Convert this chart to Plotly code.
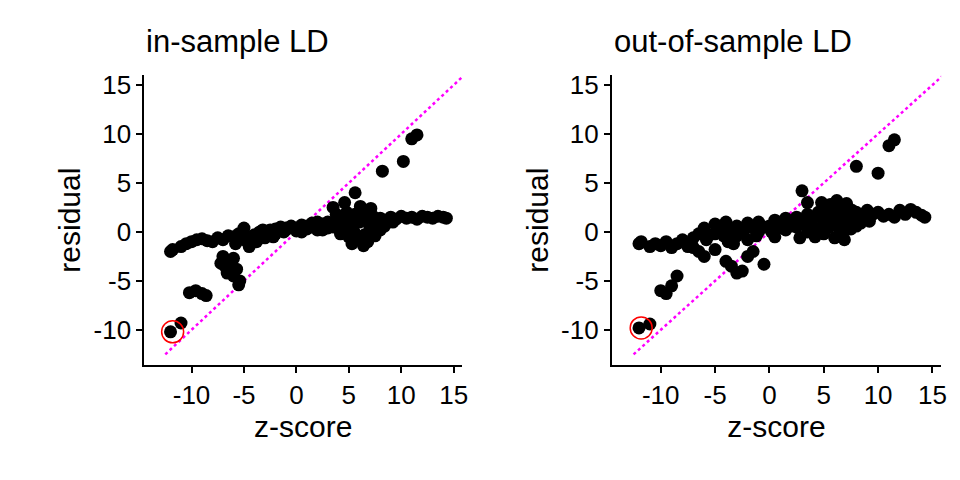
import plotly.graph_objects as go

# in-sample LD panel
in_x = [-12, -11.8, -11, -10.5, -10, -9.5, -9, -8.5, -8, -7.5, -7, -6.5, -6, -5.5, -5, -4.5, -4, -3.5, -3, -2.5,
        -2, -1.5, -1, -0.5, 0, 0.5, 1, 1.5, 2, 2.5, 3, 3.5, 4, 4.5, 5, 5.2, 5.5, 5.8, 6, 6.3, 6.6, 7, 7.3, 7.6,
        8, 8.5, 9, 9.5, 10, 10.5, 11, 11.5, 12, 12.5, 13, 13.5, 14, 14.3,
        -5.8, -5, -4.5, -3.8, -3, -2, -1, 0.5, 1.5, 2.5, 3.5, 4.5, 5, 5.5, 6, 6.5, 7, 7.5, 8, 4.8, 5.6, 6.2, 6.8,
        -7, -6.8, -6.5, -6.3, -6, -6, -5.7, -5.5, -7.2, -6.6, -5.4, -10.2, -9.6, -9, -8.6,
        -12, -11, 5.6, 8.2, 10.2, 11, 11.5, 3.5, 4.6,
        -4, -3.2, -2.2, -1.2, 0, 1, 2, 3, 4, 5.3, 6.1, 6.9, 7.7, 8.4, 9.2, 4.2, 5.9, 7.1, 3.8, 6.4]
in_y = [-2, -1.8, -1.5, -1.2, -1, -0.8, -0.7, -0.9, -1, -0.6, -0.8, -0.4, -0.5, -0.2, 0.4, -0.5, -0.3, 0, -0.2, 0.2,
        0.3, 0.5, 0.4, 0.6, 0.4, 0.7, 0.6, 0.9, 1, 0.8, 1, 0.9, 1.1, 1, 1.3, 0.9, 1.4, 1.2, 1, 1.3, 1.5, 1.2, 1.6, 1.1,
        1.4, 1.2, 1.5, 1.3, 1.6, 1.4, 1.5, 1.3, 1.6, 1.5, 1.4, 1.6, 1.5, 1.4,
        -1.2, -0.8, -1.5, -1, -0.6, -0.2, 0.2, 0, 0.5, 0.2, 0.5, 0.3, -0.5, 0, -0.8, -0.3, 0.5, -0.4, 0.2, 2, 1.8, 2.2, -1,
        -2.5, -3.5, -4, -3, -4.5, -2.7, -3.8, -5.4, -3.2, -4.2, -5, -6.2, -6, -6.3, -6.5,
        -10.2, -9.3, 4, 6.2, 7.2, 9.5, 9.9, 2.5, 3,
        -0.9, 0.2, -0.5, 0, 0.1, 0.3, 0.2, 0.4, 0.6, -1.2, 2.6, -0.6, 0.8, 0.6, 1, -0.2, 1.6, 2.4, 1.8, -1.4]

# out-of-sample LD panel
out_x = [-12, -11.8, -11, -10.5, -10, -9.5, -9, -8.5, -8, -7.5, -7, -6.5, -6, -5.5, -5, -4.5, -4, -3.5, -3, -2.5,
         -2, -1.5, -1, -0.5, 0, 0.5, 1, 1.5, 2, 2.5, 3, 3.5, 4, 4.5, 5, 5.2, 5.5, 5.8, 6, 6.3, 6.6, 7, 7.3, 7.6,
         8, 8.5, 9, 9.5, 10, 10.5, 11, 11.5, 12, 12.5, 13, 13.5, 14, 14.3,
         -5.8, -5, -4.5, -3.8, -3, -2, -1, 0.5, 1.5, 2.5, 3.5, 4.5, 5, 5.5, 6, 6.5, 7, 7.5, 8, 4.8, 5.6, 6.2, 6.8,
         -7, -6.5, -6, -5, -4, -3.5, -2.5, -2, -1.5, -3, -10, -9.5, -9, -8.5, -0.5, 3,
         -12, -11, 8, 10, 11, 11.5, 3.5,
         -4.2, -3.3, -2.3, -1.2, 0.2, 1.2, 2.2, 3.2, 4.2, 5.3, 6.1, 6.9, 7.7, 8.4, 9.2, 4, 5.9, 7.1, 2.8, 6.4]
out_y = [-1.2, -1, -1.5, -1.2, -1.4, -1, -1.6, -1.2, -0.8, -1.5, -0.6, -0.2, 0.4, -0.3, 0.8, 0.5, 1, 0.2, 0.6, 0.3,
         0.9, 0.4, 1, 0.5, 0.6, 1.2, 0.8, 1.4, 1, 1.5, 1.2, 1.8, 1.4, 2, 1.2, 2.4, 1.5, 2.2, 1.8, 2.4, 1.4, 2.6, 1.8, 2.2,
         2, 1.6, 2.2, 1.8, 2, 1.6, 1.8, 1.5, 2.2, 1.8, 2.3, 2, 1.7, 1.5,
         -0.8, -0.2, 0, -1, -0.4, -0.8, 0, -0.5, 0.2, 0.5, 0, 0.3, -0.2, 0.5, -0.6, 0.2, 0.8, 0.3, 0.6, 3, 2.8, 3.2, 0,
         -1.6, -2, -2.5, -1.8, -3, -3.5, -4, -2.5, -2, -4.2, -6, -6.3, -5.5, -4.5, -3.3, 4.2,
         -9.8, -9.4, 6.7, 6, 8.8, 9.4, 3,
         -0.4, -1.2, 0.2, -0.4, 0, 0.4, 0.6, 0.9, -0.5, 1.8, 1, -0.8, 1.2, 0.9, 1.1, 0.6, 1.2, 2.9, -0.6, 1.6]

titles = ["in-sample LD", "out-of-sample LD"]
tick_vals = [-10, -5, 0, 5, 10, 15]
tick_text = ["-10", "-5", "0", "5", "10", "15"]

FONT = "Liberation Sans, Arial, sans-serif"
fig = go.Figure()

panels = [(in_x, in_y, "x", "y", [0.142, 0.473], -11.8, -10.2),
          (out_x, out_y, "x2", "y2", [0.629, 0.972], -11.8, -9.8)]

for i, (px, py, xa, ya, dom, cx, cy) in enumerate(panels):
    fig.add_trace(go.Scatter(x=[-12.5, 16], y=[-12.5, 16], mode="lines", xaxis=xa, yaxis=ya,
                             line=dict(color="#ff00ff", dash="dot", width=2.5), showlegend=False))
    fig.add_trace(go.Scatter(x=px, y=py, mode="markers", xaxis=xa, yaxis=ya,
                             marker=dict(color="black", size=13), showlegend=False))
    fig.add_trace(go.Scatter(x=[cx], y=[cy], mode="markers", xaxis=xa, yaxis=ya,
                             marker=dict(color="rgba(0,0,0,0)", size=22, line=dict(color="red", width=1.5)),
                             showlegend=False))
    sfx = "" if i == 0 else "2"
    axis_common = dict(showgrid=False, zeroline=False, showline=True, linecolor="black", linewidth=2,
                       ticks="outside", ticklen=6, tickwidth=2, tickcolor="black",
                       tickfont=dict(size=26, color="black", family=FONT),
                       tickvals=tick_vals, ticktext=tick_text)
    fig.update_layout(**{
        "xaxis" + sfx: dict(axis_common, domain=dom, range=[-14.5, 15.8], anchor="y" + sfx,
                            title=dict(text="z-score", font=dict(size=30, color="black", family=FONT), standoff=4)),
        "yaxis" + sfx: dict(axis_common, domain=[0.256, 0.86], range=[-13.6, 16], anchor="x" + sfx,
                            title=dict(text="residual", font=dict(size=30, color="black", family=FONT), standoff=4)),
    })
    fig.add_annotation(text=titles[i], xref="paper", yref="paper", x=dom[0], y=0.89, xanchor="left",
                       yanchor="bottom", showarrow=False, font=dict(size=31, color="black", family=FONT))

fig.update_layout(width=960, height=480, margin=dict(l=0, r=0, t=0, b=0, autoexpand=False),
                  plot_bgcolor="white", paper_bgcolor="white")
fig.write_html("out.html")
